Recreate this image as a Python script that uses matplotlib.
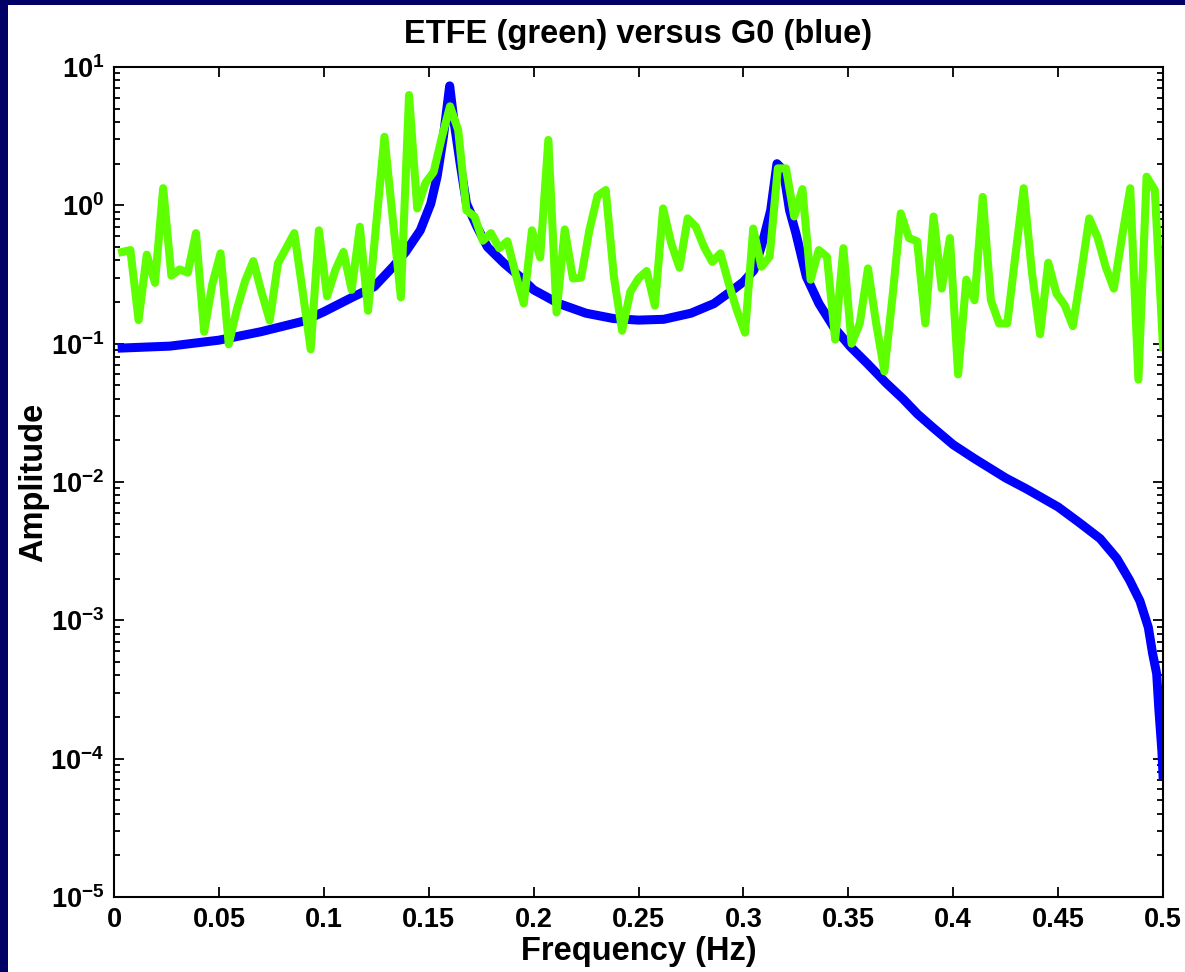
"""
ETFE estimate against the true G0 response, log amplitude
"""

import numpy as np
import matplotlib
matplotlib.use("Agg")
import matplotlib.pyplot as plt
from matplotlib.patches import Rectangle
from matplotlib.ticker import LogLocator, NullFormatter

plt.rcParams['font.family'] = ['Liberation Sans', 'DejaVu Sans']
plt.rcParams['font.weight'] = 'bold'
plt.rcParams['mathtext.fontset'] = 'custom'
plt.rcParams['mathtext.rm'] = 'Liberation Sans:bold'
plt.rcParams['mathtext.bf'] = 'Liberation Sans:bold'
plt.rcParams['mathtext.default'] = 'bf'

# ETFE amplitude, one value per frequency bin k/256, k = 1..128
etfe_amp = [
    0.46, 0.475, 0.148, 0.44, 0.275, 1.33, 0.31, 0.344, 0.326, 0.63,
    0.122, 0.27, 0.45, 0.099, 0.178, 0.284, 0.395, 0.236, 0.147, 0.38,
    0.49, 0.63, 0.244, 0.091, 0.66, 0.22, 0.34, 0.46, 0.245, 0.70,
    0.173, 0.736, 3.13, 0.82, 0.216, 6.27, 0.95, 1.45, 1.74, 3.1,
    5.2, 3.5, 0.92, 0.83, 0.555, 0.63, 0.49, 0.55, 0.32, 0.195,
    0.66, 0.42, 2.97, 0.168, 0.67, 0.296, 0.30, 0.66, 1.17, 1.29,
    0.305, 0.124, 0.237, 0.296, 0.335, 0.188, 0.95, 0.53, 0.354, 0.805,
    0.70, 0.50, 0.39, 0.45, 0.273, 0.175, 0.12, 0.68, 0.36, 0.425,
    1.85, 1.85, 0.83, 1.31, 0.29, 0.475, 0.425, 0.107, 0.49, 0.10,
    0.14, 0.35, 0.14, 0.063, 0.22, 0.875, 0.58, 0.55, 0.14, 0.83,
    0.25, 0.58, 0.06, 0.29, 0.206, 1.15, 0.206, 0.14, 0.14, 0.44,
    1.33, 0.33, 0.117, 0.385, 0.23, 0.19, 0.134, 0.32, 0.805, 0.59,
    0.36, 0.25, 0.59, 1.33, 0.055, 1.61, 1.29, 0.095,
]
etfe_freq = np.arange(1, len(etfe_amp) + 1) / 256

# true system G0
g0_freq = [
    0.0039, 0.0267, 0.05, 0.07, 0.09, 0.10, 0.114, 0.124, 0.133, 0.139,
    0.146, 0.151, 0.154, 0.157, 0.16, 0.162, 0.165, 0.168, 0.173, 0.178,
    0.186, 0.194, 0.20, 0.212, 0.225, 0.238, 0.25, 0.262, 0.275, 0.286,
    0.295, 0.30, 0.305, 0.309, 0.313, 0.316, 0.319, 0.322, 0.325, 0.330,
    0.336, 0.343, 0.351, 0.359, 0.368, 0.376, 0.383, 0.39, 0.40, 0.41,
    0.425, 0.435, 0.45, 0.46, 0.470, 0.478, 0.484, 0.489, 0.493, 0.495,
    0.497, 0.498, 0.4995, 0.5,
]
g0_amp = [
    0.093, 0.096, 0.106, 0.122, 0.145, 0.17, 0.218, 0.258, 0.36, 0.46,
    0.66, 1.03, 1.61, 3.13, 7.3, 4.1, 2.0, 1.03, 0.70, 0.50,
    0.38, 0.30, 0.245, 0.195, 0.166, 0.152, 0.148, 0.15, 0.166, 0.195,
    0.245, 0.28, 0.34, 0.53, 0.92, 2.0, 1.8, 0.92, 0.63, 0.305,
    0.195, 0.132, 0.095, 0.072, 0.052, 0.040, 0.031, 0.025, 0.0186, 0.0148,
    0.0107, 0.0089, 0.0066, 0.0051, 0.0039, 0.0028, 0.00196, 0.00138, 0.00089, 0.00058,
    0.00041, 0.00023, 0.000112, 0.000076,
]

xticks = [0, 0.05, 0.1, 0.15, 0.2, 0.25, 0.3, 0.35, 0.4, 0.45, 0.5]
xtick_labels = ['0', '0.05', '0.1', '0.15', '0.2', '0.25', '0.3', '0.35', '0.4', '0.45', '0.5']
yticks = [1e-5, 1e-4, 1e-3, 1e-2, 1e-1, 1e0, 1e1]
ytick_labels = [r'$10^{-5}$', r'$10^{-4}$', r'$10^{-3}$', r'$10^{-2}$',
                r'$10^{-1}$', r'$10^{0}$', r'$10^{1}$']

fig = plt.figure(figsize=(11.85, 9.72), dpi=100, facecolor='#000066')
fig.patches.append(Rectangle((8 / 1185, 0), 1, 1 - 5 / 972, transform=fig.transFigure,
                             facecolor='white', edgecolor='none', zorder=-5))
ax = fig.add_axes([114 / 1185, 1 - 897 / 972, 1049 / 1185, 830 / 972])

ax.plot(g0_freq, g0_amp, color='#0000ff', lw=6.5, solid_joinstyle='round')
ax.plot(etfe_freq, etfe_amp, color='#5eff00', lw=5.8, solid_joinstyle='round')

ax.set_yscale('log')
ax.set_xlim(0, 0.5)
ax.set_ylim(1e-5, 1e1)
ax.set_xticks(xticks)
ax.set_xticklabels(xtick_labels)
ax.set_yticks(yticks)
ax.set_yticklabels(ytick_labels)
ax.yaxis.set_minor_locator(LogLocator(base=10, subs=np.arange(2, 10), numticks=20))
ax.yaxis.set_minor_formatter(NullFormatter())

ax.tick_params(which='both', direction='in', top=True, right=True, width=1.3)
ax.tick_params(which='major', length=7, labelsize=19.5, pad=7)
ax.tick_params(which='minor', length=4)
for s in ax.spines.values():
    s.set_linewidth(1.5)

ax.set_title('ETFE (green) versus G0 (blue)', fontsize=23.5, fontweight='bold', pad=17)
ax.set_xlabel('Frequency (Hz)', fontsize=23.5, fontweight='bold', labelpad=2)
ax.set_ylabel('Amplitude', fontsize=23.5, fontweight='bold', labelpad=1)

fig.savefig('out.png', dpi=100, facecolor=fig.get_facecolor())
